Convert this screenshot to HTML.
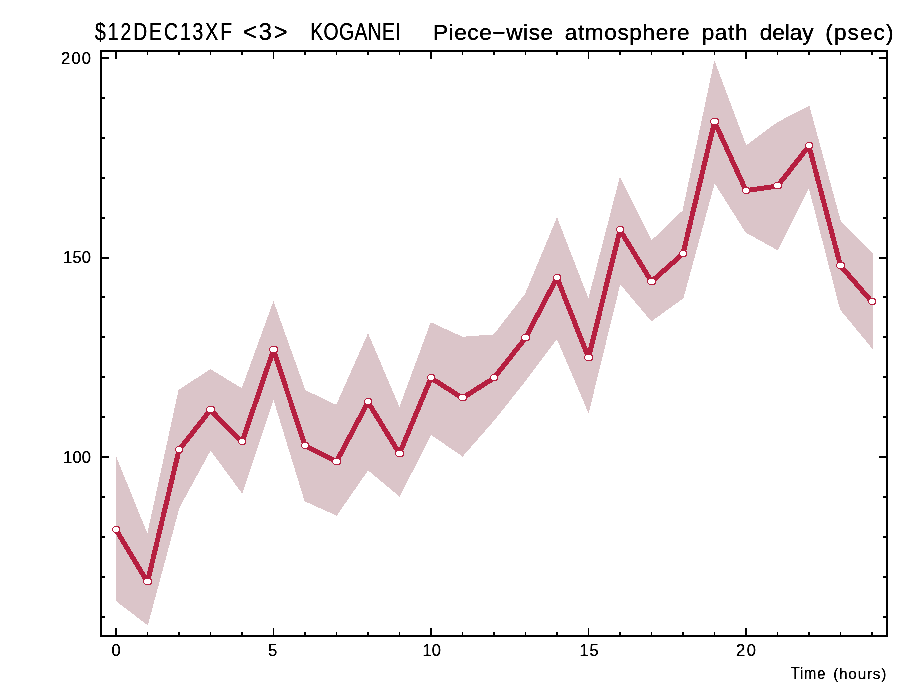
<!DOCTYPE html>
<html><head><meta charset="utf-8"><title>KOGANEI atmosphere path delay</title>
<style>html,body{margin:0;padding:0;background:#fff;overflow:hidden;}svg{display:block;}
.t{font-family:"Liberation Sans",sans-serif;}</style></head>
<body><svg width="905" height="687" viewBox="0 0 905 687">
<defs><filter id="sh" x="0" y="0" width="905" height="687" filterUnits="userSpaceOnUse"><feComponentTransfer><feFuncA type="linear" slope="2.5" intercept="-0.6"/></feComponentTransfer></filter></defs>
<rect width="905" height="687" fill="#fff"/>
<polygon points="116,457.4 147.5,535.1 179,390.1 210.5,369.8 242,388.9 273.5,302.5 305,390.5 336.5,405.5 368,334.5 399.5,408.2 431,322.9 462.5,337.3 494,334.9 525.5,294.1 557,218.5 588.5,300 620,178.2 651.5,241.1 683,210.8 714.5,62.1 746,146 777.5,122.7 809,106.4 840.5,221.9 872,253.1 872,347.6 840.5,309.3 809,186.9 777.5,249.7 746,232.1 714.5,182.2 683,298 651.5,320.7 620,283.3 588.5,411.9 557,338.1 525.5,380.3 494,420 462.5,455.9 431,434.3 399.5,495.9 368,469.6 336.5,515.1 305,500.9 273.5,398.1 242,492.5 210.5,449.7 179,507.5 147.5,624.5 116,600.5" fill="#dbc5c9" stroke="#dbc5c9" stroke-width="1" shape-rendering="crispEdges"/>
<polyline points="116,529.1 147.5,581.5 179,449.5 210.5,409.4 242,441.6 273.5,349.4 305,445.1 336.5,461.1 368,401.6 399.5,453.1 431,377.5 462.5,397.5 494,377.5 525.5,337.5 557,277.2 588.5,357.3 620,229.6 651.5,281.1 683,253.2 714.5,121.3 746,190.1 777.5,185.6 809,145.5 840.5,265.2 872,301.5" fill="none" stroke="#b61f40" stroke-width="5.0" stroke-linejoin="round" transform="translate(0 0.5)" shape-rendering="crispEdges"/>
<path d="M114 526 L118 526 L120 528 L120 531 L118 533 L114 533 L112 531 L112 528ZM145 578 L150 578 L152 580 L152 583 L150 585 L145 585 L143 583 L143 580ZM177 446 L181 446 L183 448 L183 451 L181 453 L177 453 L175 451 L175 448ZM208 406 L213 406 L215 408 L215 411 L213 413 L208 413 L206 411 L206 408ZM240 438 L244 438 L246 440 L246 443 L244 445 L240 445 L238 443 L238 440ZM271 346 L276 346 L278 348 L278 351 L276 353 L271 353 L269 351 L269 348ZM303 442 L307 442 L309 444 L309 447 L307 449 L303 449 L301 447 L301 444ZM334 458 L339 458 L341 460 L341 463 L339 465 L334 465 L332 463 L332 460ZM366 398 L370 398 L372 400 L372 403 L370 405 L366 405 L364 403 L364 400ZM397 450 L402 450 L404 452 L404 455 L402 457 L397 457 L395 455 L395 452ZM429 374 L433 374 L435 376 L435 379 L433 381 L429 381 L427 379 L427 376ZM460 394 L465 394 L467 396 L467 399 L465 401 L460 401 L458 399 L458 396ZM492 374 L496 374 L498 376 L498 379 L496 381 L492 381 L490 379 L490 376ZM523 334 L528 334 L530 336 L530 339 L528 341 L523 341 L521 339 L521 336ZM555 274 L559 274 L561 276 L561 279 L559 281 L555 281 L553 279 L553 276ZM586 354 L591 354 L593 356 L593 359 L591 361 L586 361 L584 359 L584 356ZM618 226 L622 226 L624 228 L624 231 L622 233 L618 233 L616 231 L616 228ZM649 278 L654 278 L656 280 L656 283 L654 285 L649 285 L647 283 L647 280ZM681 250 L685 250 L687 252 L687 255 L685 257 L681 257 L679 255 L679 252ZM712 118 L717 118 L719 120 L719 123 L717 125 L712 125 L710 123 L710 120ZM744 187 L748 187 L750 189 L750 192 L748 194 L744 194 L742 192 L742 189ZM775 182 L780 182 L782 184 L782 187 L780 189 L775 189 L773 187 L773 184ZM807 142 L811 142 L813 144 L813 147 L811 149 L807 149 L805 147 L805 144ZM838 262 L843 262 L845 264 L845 267 L843 269 L838 269 L836 267 L836 264ZM870 298 L874 298 L876 300 L876 303 L874 305 L870 305 L868 303 L868 300Z" fill="#b61f40" shape-rendering="crispEdges"/>
<path d="M114.5 527 L117.5 527 L119 528.5 L119 530.5 L117.5 532 L114.5 532 L113 530.5 L113 528.5ZM145.5 579 L149.5 579 L151 580.5 L151 582.5 L149.5 584 L145.5 584 L144 582.5 L144 580.5ZM177.5 447 L180.5 447 L182 448.5 L182 450.5 L180.5 452 L177.5 452 L176 450.5 L176 448.5ZM208.5 407 L212.5 407 L214 408.5 L214 410.5 L212.5 412 L208.5 412 L207 410.5 L207 408.5ZM240.5 439 L243.5 439 L245 440.5 L245 442.5 L243.5 444 L240.5 444 L239 442.5 L239 440.5ZM271.5 347 L275.5 347 L277 348.5 L277 350.5 L275.5 352 L271.5 352 L270 350.5 L270 348.5ZM303.5 443 L306.5 443 L308 444.5 L308 446.5 L306.5 448 L303.5 448 L302 446.5 L302 444.5ZM334.5 459 L338.5 459 L340 460.5 L340 462.5 L338.5 464 L334.5 464 L333 462.5 L333 460.5ZM366.5 399 L369.5 399 L371 400.5 L371 402.5 L369.5 404 L366.5 404 L365 402.5 L365 400.5ZM397.5 451 L401.5 451 L403 452.5 L403 454.5 L401.5 456 L397.5 456 L396 454.5 L396 452.5ZM429.5 375 L432.5 375 L434 376.5 L434 378.5 L432.5 380 L429.5 380 L428 378.5 L428 376.5ZM460.5 395 L464.5 395 L466 396.5 L466 398.5 L464.5 400 L460.5 400 L459 398.5 L459 396.5ZM492.5 375 L495.5 375 L497 376.5 L497 378.5 L495.5 380 L492.5 380 L491 378.5 L491 376.5ZM523.5 335 L527.5 335 L529 336.5 L529 338.5 L527.5 340 L523.5 340 L522 338.5 L522 336.5ZM555.5 275 L558.5 275 L560 276.5 L560 278.5 L558.5 280 L555.5 280 L554 278.5 L554 276.5ZM586.5 355 L590.5 355 L592 356.5 L592 358.5 L590.5 360 L586.5 360 L585 358.5 L585 356.5ZM618.5 227 L621.5 227 L623 228.5 L623 230.5 L621.5 232 L618.5 232 L617 230.5 L617 228.5ZM649.5 279 L653.5 279 L655 280.5 L655 282.5 L653.5 284 L649.5 284 L648 282.5 L648 280.5ZM681.5 251 L684.5 251 L686 252.5 L686 254.5 L684.5 256 L681.5 256 L680 254.5 L680 252.5ZM712.5 119 L716.5 119 L718 120.5 L718 122.5 L716.5 124 L712.5 124 L711 122.5 L711 120.5ZM744.5 188 L747.5 188 L749 189.5 L749 191.5 L747.5 193 L744.5 193 L743 191.5 L743 189.5ZM775.5 183 L779.5 183 L781 184.5 L781 186.5 L779.5 188 L775.5 188 L774 186.5 L774 184.5ZM807.5 143 L810.5 143 L812 144.5 L812 146.5 L810.5 148 L807.5 148 L806 146.5 L806 144.5ZM838.5 263 L842.5 263 L844 264.5 L844 266.5 L842.5 268 L838.5 268 L837 266.5 L837 264.5ZM870.5 299 L873.5 299 L875 300.5 L875 302.5 L873.5 304 L870.5 304 L869 302.5 L869 300.5Z" fill="#fff" shape-rendering="crispEdges"/>
<g shape-rendering="crispEdges" fill="#000">
<rect x="100" y="50" width="788" height="2"/>
<rect x="100" y="635" width="788" height="2"/>
<rect x="100" y="50" width="2" height="587"/>
<rect x="886" y="50" width="2" height="587"/>
<rect x="115.25" y="52" width="1.5" height="7"/>
<rect x="115.25" y="628" width="1.5" height="7"/>
<rect x="146.75" y="52" width="1.5" height="3"/>
<rect x="146.75" y="632" width="1.5" height="3"/>
<rect x="178.25" y="52" width="1.5" height="3"/>
<rect x="178.25" y="632" width="1.5" height="3"/>
<rect x="209.75" y="52" width="1.5" height="3"/>
<rect x="209.75" y="632" width="1.5" height="3"/>
<rect x="241.25" y="52" width="1.5" height="3"/>
<rect x="241.25" y="632" width="1.5" height="3"/>
<rect x="272.75" y="52" width="1.5" height="7"/>
<rect x="272.75" y="628" width="1.5" height="7"/>
<rect x="304.25" y="52" width="1.5" height="3"/>
<rect x="304.25" y="632" width="1.5" height="3"/>
<rect x="335.75" y="52" width="1.5" height="3"/>
<rect x="335.75" y="632" width="1.5" height="3"/>
<rect x="367.25" y="52" width="1.5" height="3"/>
<rect x="367.25" y="632" width="1.5" height="3"/>
<rect x="398.75" y="52" width="1.5" height="3"/>
<rect x="398.75" y="632" width="1.5" height="3"/>
<rect x="430.25" y="52" width="1.5" height="7"/>
<rect x="430.25" y="628" width="1.5" height="7"/>
<rect x="461.75" y="52" width="1.5" height="3"/>
<rect x="461.75" y="632" width="1.5" height="3"/>
<rect x="493.25" y="52" width="1.5" height="3"/>
<rect x="493.25" y="632" width="1.5" height="3"/>
<rect x="524.75" y="52" width="1.5" height="3"/>
<rect x="524.75" y="632" width="1.5" height="3"/>
<rect x="556.25" y="52" width="1.5" height="3"/>
<rect x="556.25" y="632" width="1.5" height="3"/>
<rect x="587.75" y="52" width="1.5" height="7"/>
<rect x="587.75" y="628" width="1.5" height="7"/>
<rect x="619.25" y="52" width="1.5" height="3"/>
<rect x="619.25" y="632" width="1.5" height="3"/>
<rect x="650.75" y="52" width="1.5" height="3"/>
<rect x="650.75" y="632" width="1.5" height="3"/>
<rect x="682.25" y="52" width="1.5" height="3"/>
<rect x="682.25" y="632" width="1.5" height="3"/>
<rect x="713.75" y="52" width="1.5" height="3"/>
<rect x="713.75" y="632" width="1.5" height="3"/>
<rect x="745.25" y="52" width="1.5" height="7"/>
<rect x="745.25" y="628" width="1.5" height="7"/>
<rect x="776.75" y="52" width="1.5" height="3"/>
<rect x="776.75" y="632" width="1.5" height="3"/>
<rect x="808.25" y="52" width="1.5" height="3"/>
<rect x="808.25" y="632" width="1.5" height="3"/>
<rect x="839.75" y="52" width="1.5" height="3"/>
<rect x="839.75" y="632" width="1.5" height="3"/>
<rect x="871.25" y="52" width="1.5" height="3"/>
<rect x="871.25" y="632" width="1.5" height="3"/>
<rect x="102" y="615.6" width="3" height="2"/>
<rect x="883" y="615.6" width="3" height="2"/>
<rect x="102" y="575.7" width="3" height="2"/>
<rect x="883" y="575.7" width="3" height="2"/>
<rect x="102" y="535.8" width="3" height="2"/>
<rect x="883" y="535.8" width="3" height="2"/>
<rect x="102" y="495.9" width="3" height="2"/>
<rect x="883" y="495.9" width="3" height="2"/>
<rect x="102" y="456" width="7" height="2"/>
<rect x="879" y="456" width="7" height="2"/>
<rect x="102" y="416.1" width="3" height="2"/>
<rect x="883" y="416.1" width="3" height="2"/>
<rect x="102" y="376.2" width="3" height="2"/>
<rect x="883" y="376.2" width="3" height="2"/>
<rect x="102" y="336.3" width="3" height="2"/>
<rect x="883" y="336.3" width="3" height="2"/>
<rect x="102" y="296.4" width="3" height="2"/>
<rect x="883" y="296.4" width="3" height="2"/>
<rect x="102" y="256.5" width="7" height="2"/>
<rect x="879" y="256.5" width="7" height="2"/>
<rect x="102" y="216.6" width="3" height="2"/>
<rect x="883" y="216.6" width="3" height="2"/>
<rect x="102" y="176.7" width="3" height="2"/>
<rect x="883" y="176.7" width="3" height="2"/>
<rect x="102" y="136.8" width="3" height="2"/>
<rect x="883" y="136.8" width="3" height="2"/>
<rect x="102" y="96.9" width="3" height="2"/>
<rect x="883" y="96.9" width="3" height="2"/>
<rect x="102" y="57" width="7" height="2"/>
<rect x="879" y="57" width="7" height="2"/>
</g>
<g class="t" fill="#000" stroke="#000" stroke-width="0.2" style="will-change:transform" filter="url(#sh)">
<text transform="translate(95 40) scale(0.82 1)" font-size="23.57" textLength="167.07" lengthAdjust="spacing">$12DEC13XF</text>
<text x="243.1" y="40" font-size="23.57" textLength="44.5" lengthAdjust="spacing">&lt;3&gt;</text>
<text transform="translate(310.3 40) scale(0.82 1)" font-size="23.57" textLength="110.37" lengthAdjust="spacing">KOGANEI</text>
<text transform="translate(432.9 40) scale(1.05 1)" font-size="21.5" textLength="114.48" lengthAdjust="spacing">Piece−wise</text>
<text transform="translate(564.7 40) scale(1.05 1)" font-size="21.5" textLength="118.95" lengthAdjust="spacing">atmosphere</text>
<text transform="translate(701.7 40) scale(1.05 1)" font-size="21.5" textLength="43.62" lengthAdjust="spacing">path</text>
<text transform="translate(759.8 40) scale(1.05 1)" font-size="21.5" textLength="51.24" lengthAdjust="spacing">delay</text>
<text transform="translate(825.3 40) scale(1.05 1)" font-size="21.5" textLength="64.86" lengthAdjust="spacing">(psec)</text>
<text x="61" y="63.5" font-size="16.6" textLength="30" lengthAdjust="spacing" stroke-width="0.12">200</text>
<text x="63" y="263" font-size="16.6" textLength="28" lengthAdjust="spacing" stroke-width="0.12">150</text>
<text x="63" y="462.5" font-size="16.6" textLength="28" lengthAdjust="spacing" stroke-width="0.12">100</text>
<text x="111.4" y="656" font-size="16.6" stroke-width="0.12">0</text>
<text x="268" y="656" font-size="16.6" stroke-width="0.12">5</text>
<text x="422.6" y="656" font-size="16.6" textLength="18.4" lengthAdjust="spacing" stroke-width="0.12">10</text>
<text x="579.6" y="656" font-size="16.6" textLength="19.1" lengthAdjust="spacing" stroke-width="0.12">15</text>
<text x="736" y="656" font-size="16.6" textLength="20.1" lengthAdjust="spacing" stroke-width="0.12">20</text>
<text transform="translate(790.7 679) scale(0.92 1)" font-size="16" textLength="37.72" lengthAdjust="spacing" stroke-width="0.12">Time</text>
<text x="833.2" y="679" font-size="15.3" textLength="53.1" lengthAdjust="spacing" stroke-width="0.12">(hours)</text>
</g>
</svg></body></html>
